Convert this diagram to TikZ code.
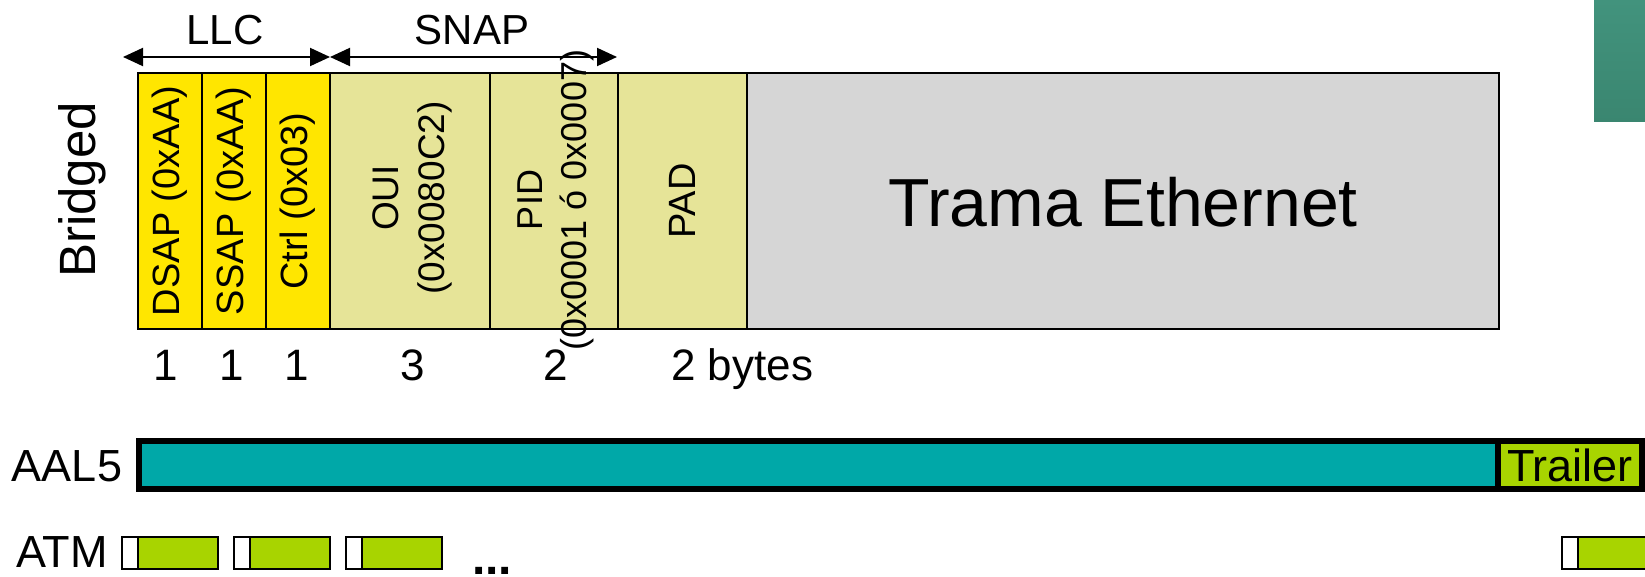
\documentclass[tikz,border=0pt]{standalone}
\usepackage{fontspec}
\setmainfont{Liberation Sans}
\usetikzlibrary{arrows.meta}
\definecolor{llcyel}{RGB}{255,230,0}
\definecolor{snapkh}{RGB}{230,228,152}
\definecolor{ethgray}{RGB}{214,214,214}
\definecolor{aalteal}{RGB}{0,168,168}
\definecolor{cellgreen}{RGB}{168,212,0}
\definecolor{cornertop}{RGB}{66,147,125}
\definecolor{cornerbot}{RGB}{58,134,112}
\newcommand{\fsz}[2]{\fontsize{#1}{#2}\selectfont}
\begin{document}
\begin{tikzpicture}[x=1pt,y=-1pt,
  field/.style={draw=black, line width=1.8pt, inner sep=0pt, outer sep=0pt, minimum height=256pt},
  vlabel/.style={rotate=90, font=\fsz{38}{45}, align=center, inner sep=0pt},
  bytenum/.style={font=\fsz{44}{50}, anchor=base, inner sep=0pt},
  hdrlabel/.style={font=\fsz{42}{48}, anchor=base, inner sep=0pt},
  rowlabel/.style={font=\fsz{45}{50}, inner sep=0pt},
  dimarrow/.style={{Triangle[length=20pt,width=18pt]}-{Triangle[length=20pt,width=18pt]}, line width=2pt},
  aalbox/.style={draw=black, line width=6pt, inner sep=0pt, outer sep=0pt, minimum height=48pt},
  atmhdr/.style={draw=black, line width=1.5pt, fill=white, inner sep=0pt, outer sep=0pt, minimum width=16pt, minimum height=32pt},
  atmpl/.style={draw=black, line width=1.5pt, fill=cellgreen, inner sep=0pt, outer sep=0pt, minimum width=80pt, minimum height=32pt}
]
\useasboundingbox (0,0) rectangle (1645,577);
\clip (0,0) rectangle (1645,577);

% corner decoration
\fill[top color=cornertop, bottom color=cornerbot] (1594,0) rectangle (1645,122);

% header labels and dimension arrows
\node[hdrlabel] (llc) at (225,45) {LLC};
\node[hdrlabel] (snap) at (472,45) {SNAP};
\coordinate (llcL) at (123,57);
\coordinate (llcR) at (330,57);
\coordinate (snapR) at (617,57);
\draw[dimarrow] (llcL) -- (llcR);
\draw[dimarrow] (llcR) -- (snapR);

% Bridged label
\node[rotate=90, font=\fsz{51}{56}, anchor=base, inner sep=0pt] (bridged) at (95,190) {Bridged};

% frame fields
\node[field, fill=llcyel, minimum width=64pt] (dsap) at (170,201) {};
\node[field, fill=llcyel, minimum width=64pt] (ssap) at (234,201) {};
\node[field, fill=llcyel, minimum width=64pt] (ctrl) at (298,201) {};
\node[field, fill=snapkh, minimum width=160pt] (oui) at (410,201) {};
\node[field, fill=snapkh, minimum width=128pt] (pid) at (554,201) {};
\node[field, fill=snapkh, minimum width=129pt] (pad) at (682.5,201) {};
\node[field, fill=ethgray, minimum width=752pt] (eth) at (1123,201) {};

\node[vlabel] (dsapt) at (dsap.center) {DSAP (0xAA)};
\node[vlabel] (ssapt) at (ssap.center) {SSAP (0xAA)};
\node[vlabel] (ctrlt) at (ctrl.center) {Ctrl (0x03)};
\node[vlabel, font=\fsz{37}{46}] (ouit) at (412,198) {OUI\\(0x0080C2)};
\node[vlabel, font=\fsz{36}{44}] (pidt) at (556,200) {PID\\(0x0001 ó 0x0007)};
\node[vlabel] (padt) at (pad.center) {PAD};
\node[font=\fsz{68}{72}, inner sep=0pt] (etht) at (1123,202) {Trama Ethernet};

% byte counts
\node[bytenum] (n1) at (166,380) {1};
\node[bytenum] (n2) at (232,380) {1};
\node[bytenum] (n3) at (297,380) {1};
\node[bytenum] (n4) at (413,380) {3};
\node[bytenum] (n5) at (556,380) {2};
\node[bytenum, anchor=base west] (n6) at (671,380) {2 bytes};

% AAL5
\node[rowlabel] (aal5) at (67,466) {AAL5};
\node[aalbox, fill=aalteal, minimum width=1359pt] (payload) at (818.5,465) {};
\node[aalbox, fill=cellgreen, minimum width=144pt] (trailer) at (1570,465) {};
\node[font=\fsz{45}{50}, inner sep=0pt] (trailert) at (1570,465) {Trailer};

% ATM cells
\node[rowlabel] (atm) at (62,552) {ATM};
\node[atmhdr] (h1) at (130,553) {};
\node[atmpl] (p1) at (178,553) {};
\node[atmhdr] (h2) at (242,553) {};
\node[atmpl] (p2) at (290,553) {};
\node[atmhdr] (h3) at (354,553) {};
\node[atmpl] (p3) at (402,553) {};
\node[atmhdr] (h4) at (1570,553) {};
\node[atmpl] (p4) at (1618,553) {};
\node[font=\fsz{48}{50}\bfseries, anchor=base, inner sep=0pt] (dots) at (492,574) {...};
\end{tikzpicture}
\end{document}
